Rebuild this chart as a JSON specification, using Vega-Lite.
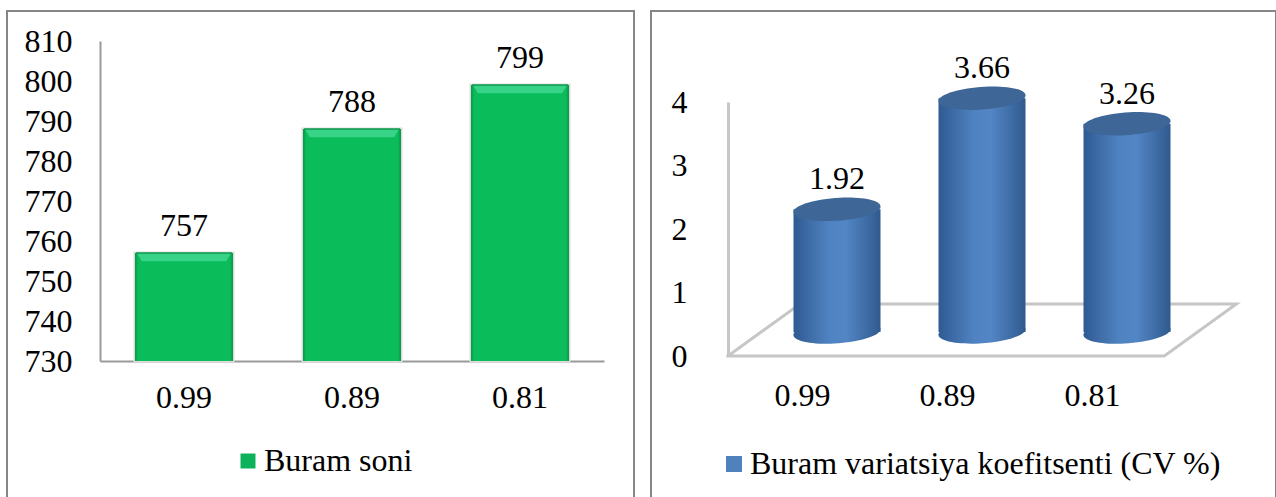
{
  "$schema": "https://vega.github.io/schema/vega-lite/v6.json",
  "padding": {"left": 6, "top": 10, "right": 0, "bottom": 0},
  "autosize": {"type": "pad"},
  "background": "white",
  "datasets": {
    "twist": [
      {"coef": "0.99", "count": 757, "floor": 730, "series": "Buram soni"},
      {"coef": "0.89", "count": 788, "floor": 730, "series": "Buram soni"},
      {"coef": "0.81", "count": 799, "floor": 730, "series": "Buram soni"}
    ],
    "cv": [
      {"coef": "0.99", "cv": 1.92, "base": 0, "series": "Buram variatsiya koefitsenti (CV %)"},
      {"coef": "0.89", "cv": 3.66, "base": 0, "series": "Buram variatsiya koefitsenti (CV %)"},
      {"coef": "0.81", "cv": 3.26, "base": 0, "series": "Buram variatsiya koefitsenti (CV %)"}
    ],
    "floor": [
      {"corner": 1, "across": 0, "rise": 0},
      {"corner": 2, "across": 0.5, "rise": 0.82},
      {"corner": 3, "across": 3.53, "rise": 0.82},
      {"corner": 4, "across": 3.03, "rise": 0},
      {"corner": 5, "across": 0, "rise": 0}
    ]
  },
  "spacing": 15,
  "hconcat": [
    {
      "width": 627,
      "height": 488,
      "data": {"name": "twist"},
      "encoding": {
        "x": {
          "field": "coef",
          "type": "ordinal",
          "sort": null,
          "title": null,
          "scale": {"range": [93, 597], "paddingInner": 0.417, "paddingOuter": 0.2085},
          "axis": {"offset": -138, "ticks": false, "labelAngle": 0, "labelPadding": 21, "domainColor": "#9a9a9a", "domainWidth": 2}
        },
        "y": {
          "field": "count",
          "type": "quantitative",
          "title": null,
          "scale": {"domain": [730, 810], "range": [350, 30], "nice": false},
          "axis": {"offset": -93, "values": [730, 740, 750, 760, 770, 780, 790, 800, 810], "ticks": false, "grid": false, "labelPadding": 28, "domainColor": "#9a9a9a", "domainWidth": 2}
        }
      },
      "layer": [
        {
          "mark": {"type": "bar", "stroke": "#dcdcdc", "strokeWidth": 3},
          "encoding": {
            "y2": {"field": "floor"},
            "color": {
              "field": "series",
              "type": "nominal",
              "scale": {"range": ["#0cb35a"]},
              "legend": {
                "title": null,
                "orient": "none",
                "legendX": 225,
                "legendY": 434,
                "symbolType": "square",
                "symbolSize": 225,
                "symbolStrokeWidth": 0,
                "labelOffset": 0,
                "labelFontSize": 32,
                "labelFont": "Liberation Serif",
                "labelColor": "#000",
                "labelLimit": 600,
                "padding": 0
              }
            }
          }
        },
        {
          "mark": {
            "type": "bar",
            "fill": {
              "x1": 0, "y1": 0, "x2": 1, "y2": 0,
              "gradient": "linear",
              "stops": [
                {"offset": 0, "color": "#078f45"},
                {"offset": 0.03, "color": "#0abd5a"},
                {"offset": 0.97, "color": "#0abd5a"},
                {"offset": 1, "color": "#078f45"}
              ]
            }
          },
          "encoding": {"y2": {"field": "floor"}}
        },
        {
          "mark": {
            "type": "point",
            "filled": true,
            "opacity": 1,
            "size": 9216,
            "color": "#38d386",
            "shape": "M-0.98,0L0.98,0L0.88,0.17L-0.88,0.17Z"
          }
        },
        {
          "mark": {"type": "tick", "color": "#0a9a4c", "thickness": 1.5, "size": 96, "opacity": 1}
        },
        {
          "mark": {"type": "text", "dy": -27, "fontSize": 32, "font": "Liberation Serif", "color": "#000"},
          "encoding": {"text": {"field": "count", "type": "quantitative"}}
        }
      ]
    },
    {
      "width": 625,
      "height": 488,
      "resolve": {"scale": {"x": "independent", "y": "independent", "color": "independent"}},
      "layer": [
        {
          "data": {"name": "floor"},
          "mark": {"type": "line", "color": "#c6c6c6", "strokeWidth": 3, "strokeCap": "square", "strokeJoin": "miter"},
          "encoding": {
            "order": {"field": "corner", "type": "ordinal"},
            "x": {
              "field": "across",
              "type": "quantitative",
              "scale": {"domain": [0, 4], "range": [77, 653], "nice": false},
              "axis": null
            },
            "y": {
              "field": "rise",
              "type": "quantitative",
              "title": null,
              "scale": {"domain": [0, 4], "range": [345, 91], "nice": false},
              "axis": {"orient": "left", "offset": -77, "values": [0, 1, 2, 3, 4], "ticks": false, "grid": false, "labelPadding": 41, "domainColor": "#c6c6c6", "domainWidth": 3}
            }
          }
        },
        {
          "data": {"name": "cv"},
          "mark": {"type": "point", "opacity": 0},
          "encoding": {
            "x": {
              "field": "coef",
              "type": "ordinal",
              "sort": null,
              "title": null,
              "scale": {"range": [78.5, 513.5], "paddingInner": 0.4, "paddingOuter": 0.2},
              "axis": {"orient": "bottom", "offset": -143, "ticks": false, "domain": false, "labelAngle": 0, "labelPadding": 24}
            }
          }
        },
        {
          "data": {"name": "cv"},
          "encoding": {
            "x": {
              "field": "coef",
              "type": "ordinal",
              "sort": null,
              "scale": {"range": [113.5, 548.5], "paddingInner": 0.4, "paddingOuter": 0.2},
              "axis": null
            },
            "y": {
              "field": "cv",
              "type": "quantitative",
              "scale": {"domain": [-0.376, 3.6], "range": [345, 91], "nice": false},
              "axis": null
            }
          },
          "layer": [
            {
              "mark": {"type": "bar", "opacity": 0},
              "encoding": {
                "y2": {"field": "base"},
                "color": {
                  "field": "series",
                  "type": "nominal",
                  "scale": {"range": ["#4f81bd"]},
                  "legend": {
                    "title": null,
                    "orient": "none",
                    "legendX": 67,
                    "legendY": 437,
                    "symbolType": "square",
                    "symbolSize": 256,
                    "symbolStrokeWidth": 0,
                    "symbolOpacity": 1,
                    "labelOffset": 0,
                    "labelFontSize": 32,
                    "labelFont": "Liberation Serif",
                    "labelColor": "#000",
                    "labelLimit": 800,
                    "padding": 0
                  }
                }
              }
            },
            {
              "mark": {
                "type": "point",
                "filled": true,
                "opacity": 1,
                "size": 7569,
                "shape": "M-1,0.05A1,0.26 -4 1,0 1,-0.05A1,0.26 -4 1,0 -1,0.05Z",
                "fill": {
                  "x1": 0, "y1": 0, "x2": 1, "y2": 0,
                  "gradient": "linear",
                  "stops": [
                    {"offset": 0, "color": "#2f5a92"},
                    {"offset": 0.4, "color": "#4f82c0"},
                    {"offset": 0.6, "color": "#5386c6"},
                    {"offset": 1, "color": "#305a8e"}
                  ]
                }
              },
              "encoding": {"y": {"field": "base", "type": "quantitative"}}
            },
            {
              "mark": {
                "type": "bar",
                "opacity": 1,
                "fill": {
                  "x1": 0, "y1": 0, "x2": 1, "y2": 0,
                  "gradient": "linear",
                  "stops": [
                    {"offset": 0, "color": "#2f5a92"},
                    {"offset": 0.4, "color": "#4f82c0"},
                    {"offset": 0.6, "color": "#5386c6"},
                    {"offset": 1, "color": "#305a8e"}
                  ]
                }
              },
              "encoding": {"y2": {"field": "base"}}
            },
            {
              "mark": {
                "type": "point",
                "filled": true,
                "opacity": 1,
                "size": 7569,
                "color": "#3e6696",
                "shape": "M-1,0.05A1,0.26 -4 1,0 1,-0.05A1,0.26 -4 1,0 -1,0.05Z"
              }
            },
            {
              "mark": {"type": "text", "dy": -30, "fontSize": 32, "font": "Liberation Serif", "color": "#000"},
              "encoding": {"text": {"field": "cv", "type": "quantitative", "format": ".2f"}}
            }
          ]
        }
      ]
    }
  ],
  "config": {
    "view": {"stroke": "#868686", "strokeWidth": 2},
    "axis": {"labelFont": "Liberation Serif", "labelFontSize": 32, "labelColor": "#000", "labelOverlap": false, "labelBound": false, "labelFlush": false}
  }
}
